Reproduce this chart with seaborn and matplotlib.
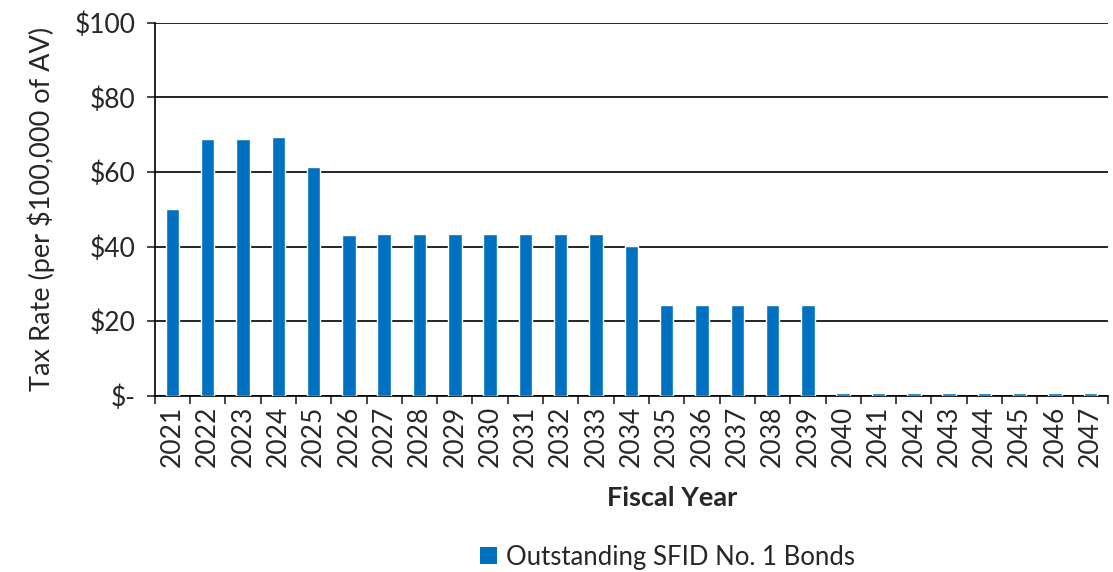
import numpy as np
import pandas as pd
import seaborn as sns
import matplotlib.pyplot as plt
from matplotlib.patches import Patch
from matplotlib.ticker import FixedLocator

# -----------------------------
# Data
# -----------------------------
years = [str(y) for y in range(2021, 2048)]
tax_rate = [50.0, 68.8, 68.8, 69.3, 61.4, 43.1, 43.5, 43.5, 43.5, 43.5,
            43.5, 43.5, 43.5, 40.2, 24.3, 24.3, 24.3, 24.3, 24.3,
            0.8, 0.8, 0.8, 0.8, 0.8, 0.8, 0.8, 0.8]
series_name = 'Outstanding SFID No. 1 Bonds'
y_ticks = [0, 20, 40, 60, 80, 100]
y_labels = ['$-', '$20', '$40', '$60', '$80', '$100']

df = pd.DataFrame({'year': years, 'rate': tax_rate})

# -----------------------------
# Plot
# -----------------------------
sns.set_style('white')
plt.rcParams['font.family'] = ['Lato', 'DejaVu Sans']
bar_color = '#0070C0'

fig = plt.figure(figsize=(11.13, 5.72), dpi=100)
ax = fig.add_axes([0.139, 0.308, 0.8565, 0.652])

sns.barplot(data=df, x='year', y='rate', color=bar_color, width=0.38,
            saturation=1, ax=ax, zorder=3)

ax.set_ylim(0, 100)
ax.set_xlim(-0.5, len(years) - 0.5)
ax.set_yticks(y_ticks)
ax.set_yticklabels(y_labels, fontsize=19)
ax.yaxis.grid(True, color='black', linewidth=1.2, zorder=0)
ax.set_axisbelow(True)

ax.set_xticks(range(len(years)))
ax.set_xticklabels(years, rotation=90, fontsize=19)
ax.tick_params(axis='x', which='major', length=0, pad=7)
ax.xaxis.set_minor_locator(FixedLocator(np.arange(-0.5, len(years), 1.0)))
ax.tick_params(axis='x', which='minor', length=6, width=1.2, direction='out', bottom=True)
ax.tick_params(axis='y', length=6, width=1.2, direction='out', left=True, pad=8)

for side in ['top', 'right']:
    ax.spines[side].set_visible(False)
for side in ['left', 'bottom']:
    ax.spines[side].set_color('black')
    ax.spines[side].set_linewidth(1.2)

ax.set_xlabel('Fiscal Year', fontsize=19.5, fontweight='bold')
ax.xaxis.set_label_coords(0.5425, -0.242)
ax.set_ylabel('Tax Rate (per $100,000 of AV)', fontsize=19.5, labelpad=14)

handles = [Patch(facecolor=bar_color, edgecolor='none', label=series_name)]
fig.legend(handles=handles, loc='center', bbox_to_anchor=(0.6, 0.026),
           frameon=False, fontsize=18.5, handlelength=0.65, handleheight=0.65,
           handletextpad=0.35)

fig.savefig('out.png', dpi=100)
plt.close(fig)
